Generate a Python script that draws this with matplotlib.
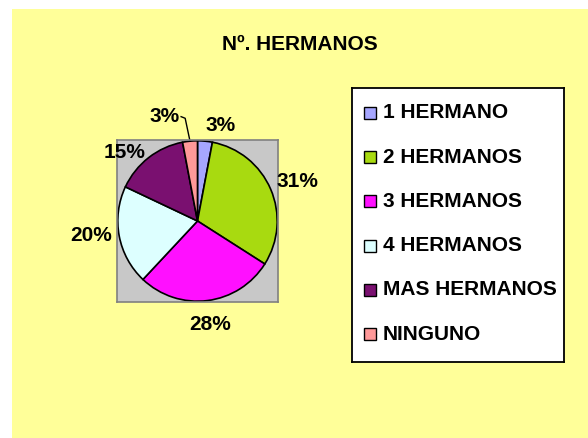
import matplotlib.pyplot as plt
import numpy as np
from matplotlib.patches import Rectangle

# datos del grafico
categorias = ["1 HERMANO", "2 HERMANOS", "3 HERMANOS", "4 HERMANOS", "MAS HERMANOS", "NINGUNO"]
porcentajes = [3, 31, 28, 20, 15, 3]
colores = ["#A6A6FF", "#A8DA10", "#FF10FF", "#DDFFFF", "#7A1070", "#FF9999"]
titulo = "Nº. HERMANOS"

plt.rcParams['font.family'] = ['Liberation Sans', 'DejaVu Sans']
W, H = 588, 438
fig = plt.figure(figsize=(W/100, H/100), dpi=100)
fig.patch.set_facecolor("white")

def px(x0, y0, x1, y1):
    return [x0/W, 1-y1/H, (x1-x0)/W, (y1-y0)/H]

# fondo amarillo
fondo = fig.add_axes(px(12, 9, 588, 438))
fondo.set_facecolor("#FFFF99")
fondo.set_xticks([]); fondo.set_yticks([])
for s in fondo.spines.values():
    s.set_visible(False)

fig.text(300/W, 1-45/H, titulo, ha="center", va="center", fontsize=15, fontweight="bold")

# torta
ax = fig.add_axes(px(117, 140, 278, 302))
wedges, _ = ax.pie(porcentajes, colors=colores, startangle=90, counterclock=False,
                   radius=0.99, wedgeprops=dict(edgecolor="black", linewidth=1.2))
ax.set_frame_on(True)
ax.set_facecolor("#C8C8C8")
for s in ax.spines.values():
    s.set_visible(True)
    s.set_color("#808080")
    s.set_linewidth(1.2)
ax.set_xlim(-1.0, 1.0); ax.set_ylim(-1.0, 1.0)
ax.set_aspect("auto")
ax.set_xticks([]); ax.set_yticks([])

# ajustes de posicion de etiquetas (radio, desvio angular)
dist = [1.21, 1.34, 1.29, 1.33, 1.24, 1.35]
desvio = [-8, -2, 0, -3, 9, 12]
for i, w in enumerate(wedges):
    ang = np.deg2rad((w.theta1 + w.theta2)/2 + desvio[i])
    x, y = dist[i]*np.cos(ang), dist[i]*np.sin(ang)
    ax.text(x, y, "%d%%" % porcentajes[i], ha="center", va="center",
            fontsize=15, fontweight="bold", clip_on=False)
    if i == len(wedges)-1:
        # linea guia
        a0 = np.deg2rad((w.theta1 + w.theta2)/2)
        ex, ey = 0.99*np.cos(a0), 0.99*np.sin(a0)
        ax.plot([ex, ex-0.06, x+0.2], [ey, y-0.02, y], color="black",
                linewidth=1.0, clip_on=False)

# leyenda
lg = fig.add_axes(px(352, 88, 564, 362))
lg.set_xlim(352, 564); lg.set_ylim(362, 88)
lg.set_facecolor("white")
lg.set_xticks([]); lg.set_yticks([])
for s in lg.spines.values():
    s.set_color("black")
    s.set_linewidth(1.3)
for i, (c, lab) in enumerate(zip(colores, categorias)):
    yc = 113 + i*44.2
    lg.add_patch(Rectangle((364, yc-6), 12, 12, facecolor=c, edgecolor="black", linewidth=1.0))
    lg.text(383, yc, lab, ha="left", va="center", fontsize=15, fontweight="bold")

fig.savefig("out.png", dpi=100)
